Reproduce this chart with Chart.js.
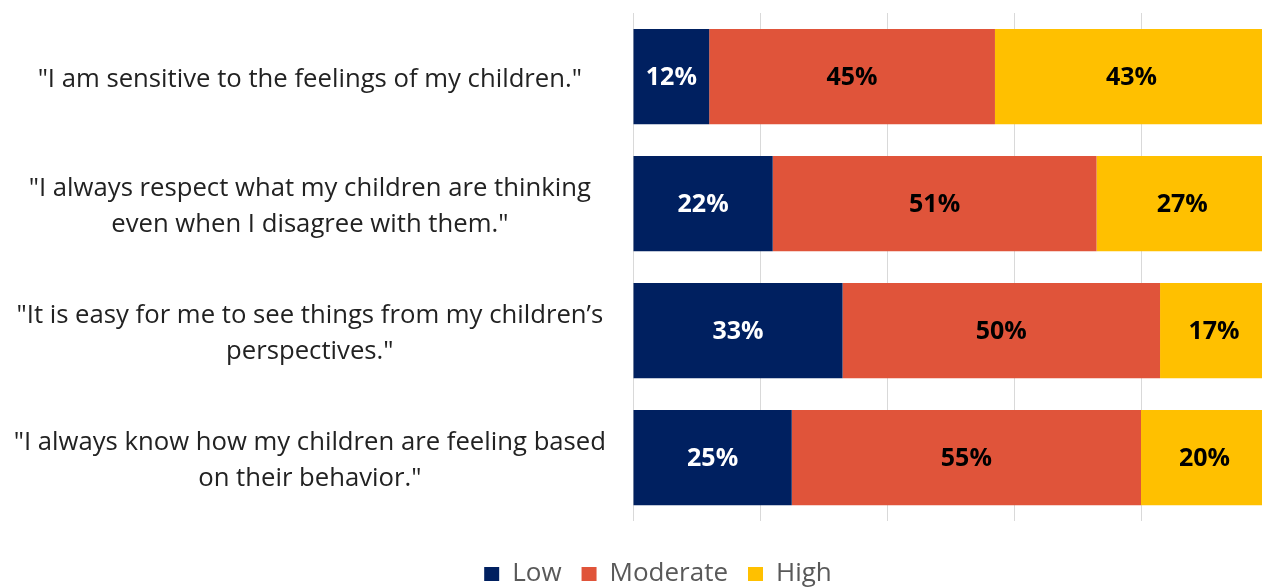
<!DOCTYPE html>
<html>
<head>
<title>Empathy - Stacked Bar</title>
<script src="https://cdn.jsdelivr.net/npm/chart.js@4.4.1/dist/chart.umd.min.js"></script>
<style>
  html, body { margin: 0; padding: 0; background: #ffffff; overflow: hidden; }
  #container { position: relative; width: 1270px; height: 597px; }
</style>
</head>
<body>

<div id="container">
  <canvas id="canvas"></canvas></div>
<script>

// statements (multi line labels as arrays)
var statements = [
  ['"I am sensitive to the feelings of my children."'],
  ['"I always respect what my children are thinking', 'even when I disagree with them."'],
  ['"It is easy for me to see things from my children\u2019s', 'perspectives."'],
  ['"I always know how my children are feeling based', 'on their behavior."']
];

// series values in percent
var lowValues      = [12, 22, 33, 25];
var moderateValues = [45, 51, 50, 55];
var highValues     = [43, 27, 17, 20];

var seriesNames = ['Low', 'Moderate', 'High'];
var xTicks = [0, 20, 40, 60, 80, 100];

var labelFontFamily = "'Open Sans', 'Lato', sans-serif";

// draws the value inside every bar segment
var barLabels = {
  id: 'barLabels',
  afterLayout: function(chart) {
    // legend sits a bit right of the canvas centre in the original
    if (chart.legend) { chart.legend.left += 48; }
  },
  afterDatasetsDraw: function(chart) {
    var ctx = chart.ctx;
    ctx.save();
    ctx.font = 'bold 25px ' + labelFontFamily;
    ctx.textAlign = 'center';
    ctx.textBaseline = 'middle';
    chart.data.datasets.forEach(function(ds, i) {
      var meta = chart.getDatasetMeta(i);
      meta.data.forEach(function(bar, j) {
        var cx = (bar.x + bar.base) / 2;
        ctx.fillStyle = i == 0 ? '#ffffff' : '#000000';
        ctx.fillText(ds.data[j] + '%', cx, bar.y + 1);
      });
    });
    ctx.restore();
  }
};

var chartData = {
  labels: statements,
  datasets: [
    { label: seriesNames[0], data: lowValues,      backgroundColor: '#002060' },
    { label: seriesNames[1], data: moderateValues, backgroundColor: '#E0543A' },
    { label: seriesNames[2], data: highValues,     backgroundColor: '#FFC000' }
  ]
};

var ctx = document.getElementById('canvas').getContext('2d');
window.myBar = new Chart(ctx, {
  type: 'bar',
  data: chartData,
  plugins: [barLabels],
  options: {
    indexAxis: 'y',
    responsive: true,
    maintainAspectRatio: false,
    animation: false,
    datasets: {
      bar: { barPercentage: 0.75, categoryPercentage: 1.0, borderWidth: 0 }
    },
    layout: { padding: { top: 13, right: 2, left: 0, bottom: 0 } },
    scales: {
      x: {
        stacked: true,
        min: 0,
        max: 100,
        afterBuildTicks: function(scale) {
          scale.ticks = xTicks.map(function(v) { return { value: v }; });
        },
        afterFit: function(scale) {
          scale.height = 20;
          scale.paddingLeft = 0;
          scale.paddingRight = 0;
        },
        ticks: { display: false },
        grid: { color: '#D9D9D9', lineWidth: 1, drawTicks: false },
        border: { display: false }
      },
      y: {
        stacked: true,
        afterFit: function(scale) {
          // fixed label column, no extra room for half label heights
          scale.width = 633;
          scale.paddingTop = 0;
          scale.paddingBottom = 0;
        },
        grid: { display: false, drawTicks: false },
        border: { display: false },
        ticks: {
          crossAlign: 'center',
          padding: 27,
          labelOffset: 3,
          color: '#222222',
          font: { family: labelFontFamily, size: 25.7, lineHeight: 1.4 }
        }
      }
    },
    plugins: {
      title: { display: false },
      tooltip: { enabled: false },
      legend: {
        display: true,
        position: 'bottom',
        align: 'center',
        labels: {
          boxWidth: 15,
          boxHeight: 14,
          padding: 20,
          color: '#595959',
          font: { family: labelFontFamily, size: 26 }
        }
      }
    }
  }
});

</script>

</body>
</html>
